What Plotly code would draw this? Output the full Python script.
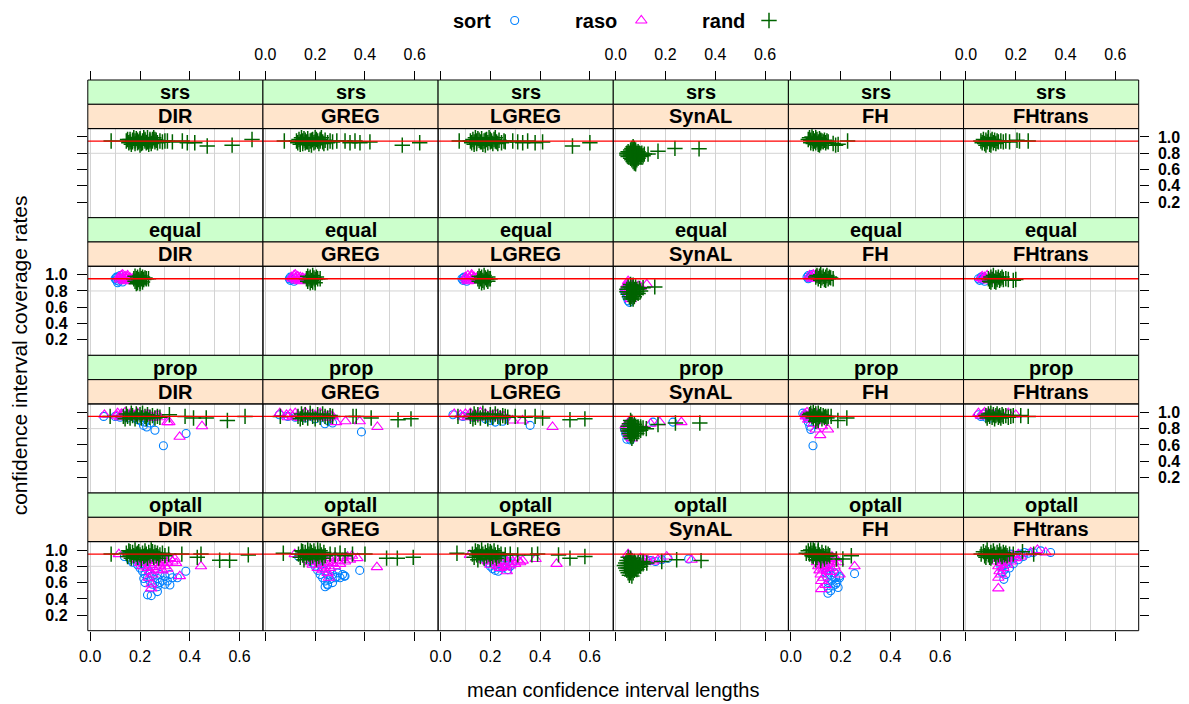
import plotly.graph_objects as go

# ---------------- data ----------------
DESIGNS = ["srs", "equal", "prop", "optall"]
METHODS = ["DIR", "GREG", "LGREG", "SynAL", "FH", "FHtrans"]
GROUPS = ["sort", "raso", "rand"]

X_TICKS = [0.0, 0.2, 0.4, 0.6]
X_TICK_TEXT = ["0.0", "0.2", "0.4", "0.6"]
X_MINOR = [0.1, 0.3, 0.5]
Y_TICKS = [0.2, 0.4, 0.6, 0.8, 1.0]
Y_TICK_TEXT = ["0.2", "0.4", "0.6", "0.8", "1.0"]
TARGET_LEVEL = 0.95
Y_GRID_LEVEL = 0.8
X_RANGE = [-0.0098, 0.6939]
Y_RANGE = [0.01, 1.103]

# --- srs (only rand) ---
SRS_DIR_RAND = [(0.084,0.95),
 (0.145,0.95),(0.155,0.93),(0.16,0.97),(0.17,0.94),(0.175,0.99),(0.18,0.92),(0.19,0.96),(0.195,0.94),(0.2,0.98),
 (0.205,0.92),(0.21,0.95),(0.22,0.97),(0.225,0.93),(0.23,0.99),(0.24,0.95),(0.245,0.92),(0.25,0.97),(0.26,0.94),
 (0.265,0.96),(0.27,0.93),(0.28,0.95),(0.29,0.94),(0.3,0.95),
 (0.15,0.97),(0.165,0.91),(0.185,0.98),(0.2,0.9),(0.215,0.99),(0.235,0.91),(0.255,0.99),(0.17,0.96),(0.21,0.93),(0.24,0.97),
 (0.16,0.94),(0.18,0.95),(0.19,0.93),(0.2,0.96),(0.22,0.95),(0.23,0.94),(0.25,0.95),(0.26,0.97),
 (0.31,0.95),(0.33,0.94),(0.37,0.95),(0.39,0.93),(0.42,0.93),(0.47,0.89),(0.57,0.9),(0.65,0.97)]
SRS_GREG_RAND = [(0.076,0.95),
 (0.125,0.95),(0.13,0.93),(0.135,0.97),(0.14,0.94),(0.145,0.99),(0.15,0.92),(0.16,0.96),(0.165,0.94),(0.17,0.98),
 (0.175,0.91),(0.18,0.95),(0.19,0.97),(0.195,0.93),(0.2,0.99),(0.21,0.95),(0.215,0.92),(0.22,0.97),(0.23,0.94),
 (0.24,0.96),(0.25,0.93),(0.26,0.95),(0.27,0.94),(0.287,0.95),
 (0.14,0.91),(0.155,0.98),(0.185,0.9),(0.205,0.97),(0.225,0.99),(0.235,0.92),(0.16,0.93),
 (0.15,0.95),(0.17,0.94),(0.185,0.96),(0.2,0.94),(0.22,0.95),
 (0.32,0.95),(0.34,0.93),(0.36,0.95),(0.38,0.93),(0.42,0.94),(0.55,0.9),(0.62,0.93)]
SRS_LGREG_RAND = [(0.075,0.95),
 (0.12,0.95),(0.125,0.93),(0.13,0.97),(0.135,0.94),(0.14,0.99),(0.145,0.92),(0.155,0.96),(0.16,0.94),(0.165,0.98),
 (0.17,0.91),(0.175,0.95),(0.185,0.97),(0.19,0.93),(0.195,0.99),(0.205,0.95),(0.21,0.92),(0.215,0.97),(0.225,0.94),
 (0.235,0.96),(0.245,0.93),(0.255,0.95),(0.26,0.94),
 (0.135,0.91),(0.15,0.98),(0.18,0.9),(0.2,0.97),(0.22,0.99),(0.23,0.92),
 (0.145,0.95),(0.165,0.94),(0.18,0.96),(0.2,0.94),(0.22,0.95),
 (0.29,0.95),(0.31,0.94),(0.33,0.93),(0.35,0.95),(0.38,0.93),(0.41,0.94),(0.53,0.89),(0.6,0.93)]
SRS_SYNAL_RAND = [(0.07,0.88),(0.065,0.86),(0.075,0.86),(0.06,0.84),(0.07,0.84),(0.08,0.84),(0.05,0.82),(0.06,0.82),
 (0.07,0.82),(0.08,0.82),(0.09,0.82),(0.045,0.8),(0.055,0.8),(0.065,0.8),(0.075,0.8),(0.085,0.8),(0.095,0.8),(0.105,0.8),
 (0.045,0.78),(0.06,0.78),(0.07,0.78),(0.08,0.78),(0.09,0.78),(0.1,0.78),(0.115,0.79),(0.13,0.79),(0.05,0.76),(0.06,0.76),
 (0.07,0.76),(0.08,0.76),(0.09,0.76),(0.1,0.76),(0.11,0.77),(0.06,0.74),(0.07,0.74),(0.08,0.74),(0.09,0.74),(0.065,0.72),
 (0.075,0.72),(0.085,0.72),(0.07,0.7),(0.08,0.7),(0.075,0.68),(0.08,0.67),(0.17,0.825),(0.238,0.86),(0.335,0.855)]
SRS_FH_RAND = [(0.07,0.97),(0.075,0.99),(0.08,0.96),(0.085,1.0),(0.09,0.98),(0.095,0.95),(0.1,0.99),(0.105,0.97),
 (0.11,0.94),(0.115,0.98),(0.12,0.96),(0.08,0.93),(0.09,0.92),(0.1,0.93),(0.11,0.91),(0.12,0.93),(0.125,0.95),(0.13,0.94),
 (0.135,0.96),(0.14,0.93),(0.145,0.95),(0.15,0.94),(0.1,0.96),(0.09,0.95),(0.115,0.9),(0.17,0.92),(0.18,0.9),(0.19,0.91),
 (0.228,0.95)]
SRS_FHTRANS_RAND = [(0.06,0.95),(0.065,0.93),(0.07,0.97),(0.075,0.92),(0.08,0.96),(0.085,0.94),(0.09,0.98),(0.095,0.91),
 (0.1,0.95),(0.105,0.97),(0.11,0.93),(0.115,0.96),(0.12,0.92),(0.125,0.95),(0.13,0.94),(0.14,0.95),(0.15,0.94),(0.16,0.95),
 (0.175,0.94),(0.08,0.9),(0.1,0.9),(0.09,0.99),(0.205,0.96),(0.25,0.95),(0.215,0.95)]

# --- equal ---
EQUAL_DIR_SORT = [(0.1,0.95),(0.105,0.93),(0.11,0.97),(0.115,0.92),(0.12,0.96),(0.125,0.94),(0.13,0.91),(0.11,0.9),
 (0.105,0.97),(0.12,0.99)]
EQUAL_DIR_RASO = [(0.115,0.97),(0.12,0.94),(0.125,0.99),(0.13,0.96),(0.135,0.93),(0.14,0.98),(0.145,0.95),(0.15,0.97),
 (0.155,0.93),(0.16,0.96),(0.165,0.94),(0.17,0.95),(0.13,1.0),(0.14,0.92),(0.15,0.99)]
EQUAL_DIR_RAND = [(0.175,0.95),(0.18,0.92),(0.18,0.98),(0.185,0.95),(0.19,0.9),(0.19,0.97),(0.195,0.94),(0.2,0.99),
 (0.2,0.92),(0.205,0.95),(0.21,0.97),(0.21,0.91),(0.215,0.94),(0.22,0.96),(0.225,0.95),(0.234,0.95),(0.185,0.89),(0.2,0.89)]
EQUAL_GREG_SORT = [(0.096,0.95),(0.1,0.93),(0.105,0.96),(0.11,0.94),(0.115,0.92),(0.1,0.97)]
EQUAL_GREG_RASO = [(0.105,0.97),(0.11,0.95),(0.115,0.99),(0.12,0.96),(0.125,0.93),(0.13,0.98),(0.135,0.95),(0.14,0.97),
 (0.145,0.93),(0.15,0.96),(0.155,0.94),(0.16,0.95),(0.12,1.0),(0.14,0.92)]
EQUAL_GREG_RAND = [(0.165,0.95),(0.17,0.92),(0.17,0.98),(0.175,0.95),(0.18,0.9),(0.18,0.97),(0.185,0.93),(0.19,0.99),
 (0.19,0.91),(0.195,0.96),(0.2,0.94),(0.2,0.9),(0.205,0.97),(0.21,0.95),(0.22,0.95)]
EQUAL_LGREG_SORT = [(0.086,0.95),(0.09,0.93),(0.095,0.97),(0.1,0.94),(0.105,0.92),(0.092,0.96)]
EQUAL_LGREG_RASO = [(0.1,0.97),(0.105,0.94),(0.11,0.99),(0.115,0.96),(0.12,0.93),(0.125,0.98),(0.13,0.95),(0.135,0.97),
 (0.14,0.93),(0.145,0.96),(0.11,0.92),(0.125,1.0)]
EQUAL_LGREG_RAND = [(0.15,0.95),(0.155,0.92),(0.155,0.98),(0.16,0.95),(0.165,0.9),(0.165,0.97),(0.17,0.93),(0.175,0.99),
 (0.175,0.91),(0.18,0.96),(0.185,0.94),(0.19,0.92),(0.19,0.97),(0.195,0.95),(0.2,0.95)]
EQUAL_SYNAL_SORT = [(0.035,0.8),(0.04,0.78),(0.04,0.82),(0.045,0.72),(0.05,0.68),(0.055,0.66),(0.05,0.86),(0.06,0.74),
 (0.045,0.76)]
EQUAL_SYNAL_RASO = [(0.05,0.92),(0.045,0.88),(0.055,0.9),(0.04,0.84),(0.06,0.82),(0.065,0.86),(0.05,0.8),(0.07,0.78),
 (0.055,0.76),(0.08,0.84),(0.09,0.86),(0.125,0.88),(0.06,0.7),(0.1,0.85)]
EQUAL_SYNAL_RAND = [(0.06,0.88),(0.07,0.87),(0.05,0.85),(0.06,0.85),(0.07,0.85),(0.08,0.85),(0.045,0.82),(0.055,0.82),
 (0.065,0.82),(0.075,0.82),(0.085,0.82),(0.095,0.83),(0.045,0.79),(0.055,0.79),(0.065,0.79),(0.075,0.79),(0.085,0.79),
 (0.1,0.8),(0.05,0.76),(0.06,0.76),(0.07,0.76),(0.08,0.76),(0.09,0.77),(0.055,0.73),(0.065,0.73),(0.075,0.73),(0.06,0.7),
 (0.07,0.7),(0.157,0.85),(0.11,0.84)]
EQUAL_FH_SORT = [(0.065,0.97),(0.07,0.99),(0.075,0.96),(0.08,0.98),(0.085,1.0),(0.07,0.95)]
EQUAL_FH_RASO = [(0.075,0.99),(0.08,0.97),(0.085,0.95),(0.09,0.99),(0.095,0.96),(0.1,0.98),(0.105,1.0),(0.11,0.97),
 (0.115,0.95),(0.09,1.0)]
EQUAL_FH_RAND = [(0.1,0.97),(0.105,0.99),(0.11,0.95),(0.115,0.98),(0.12,1.0),(0.125,0.96),(0.13,0.98),(0.135,0.94),
 (0.14,0.97),(0.145,0.99),(0.15,0.95),(0.155,0.97),(0.16,0.96),(0.17,0.95),(0.12,0.93),(0.14,0.93)]
EQUAL_FHTRANS_SORT = [(0.05,0.95),(0.055,0.93),(0.06,0.97),(0.065,0.94),(0.07,0.96),(0.075,0.92)]
EQUAL_FHTRANS_RASO = [(0.06,0.96),(0.065,0.98),(0.07,0.94),(0.075,0.97),(0.08,0.95),(0.085,0.99),(0.09,0.93),(0.095,0.96),
 (0.1,0.94),(0.105,0.97),(0.11,0.95)]
EQUAL_FHTRANS_RAND = [(0.09,0.95),(0.095,0.92),(0.1,0.97),(0.105,0.94),(0.11,0.99),(0.115,0.92),(0.12,0.96),(0.125,0.94),
 (0.13,0.97),(0.135,0.93),(0.14,0.95),(0.145,0.97),(0.15,0.94),(0.16,0.95),(0.17,0.94),(0.19,0.93),(0.2,0.94),(0.1,0.91),
 (0.12,0.91)]

# --- prop ---
PROP_DIR_SORT = [(0.054,0.95),(0.1,0.95),(0.12,0.94),(0.15,0.93),(0.18,0.93),(0.2,0.9),(0.214,0.84),(0.227,0.82),
 (0.26,0.78),(0.294,0.59),(0.385,0.74),(0.22,0.88),(0.24,0.87),(0.19,0.91),(0.16,0.96),(0.13,0.97)]
PROP_DIR_RASO = [(0.057,0.97),(0.107,0.96),(0.11,0.99),(0.12,0.94),(0.13,0.97),(0.14,1.0),(0.15,0.95),(0.16,0.98),
 (0.17,0.94),(0.18,0.97),(0.19,0.99),(0.2,0.95),(0.21,0.97),(0.22,0.94),(0.23,0.98),(0.24,0.96),(0.25,0.93),(0.26,0.95),
 (0.27,0.97),(0.28,0.94),(0.31,0.88),(0.318,0.88),(0.359,0.7),(0.449,0.83),(0.125,0.98),(0.145,0.96),(0.165,0.99),
 (0.185,0.95)]
PROP_DIR_RAND = [(0.08,0.95),(0.133,0.95),(0.14,0.92),(0.145,0.98),(0.15,0.95),(0.16,0.93),(0.165,0.99),(0.17,0.96),
 (0.18,0.92),(0.185,0.98),(0.19,0.95),(0.2,0.97),(0.205,0.93),(0.21,0.99),(0.22,0.95),(0.225,0.92),(0.23,0.97),
 (0.24,0.94),(0.25,0.96),(0.26,0.93),(0.27,0.95),(0.28,0.94),(0.318,0.97),(0.381,0.95),(0.415,0.93),(0.466,0.93),
 (0.551,0.9),(0.622,0.95)]
PROP_GREG_SORT = [(0.056,0.97),(0.09,0.95),(0.12,0.94),(0.16,0.93),(0.2,0.92),(0.239,0.86),(0.27,0.87),(0.386,0.76),
 (0.25,0.9)]
PROP_GREG_RASO = [(0.058,0.99),(0.085,0.97),(0.09,0.94),(0.1,0.98),(0.11,0.95),(0.12,0.99),(0.13,0.96),(0.14,0.93),
 (0.15,0.97),(0.16,1.0),(0.17,0.95),(0.18,0.98),(0.19,0.94),(0.2,0.97),(0.21,0.95),(0.22,0.99),(0.23,0.94),(0.24,0.96),
 (0.25,0.93),(0.26,0.97),(0.27,0.95),(0.284,0.88),(0.322,0.89),(0.379,0.89),(0.45,0.82)]
PROP_GREG_RAND = [(0.06,0.95),(0.131,0.95),(0.14,0.92),(0.145,0.98),(0.15,0.94),(0.16,0.97),(0.17,0.93),(0.18,0.99),
 (0.19,0.95),(0.2,0.92),(0.21,0.97),(0.22,0.94),(0.23,0.98),(0.24,0.95),(0.25,0.93),(0.26,0.96),(0.27,0.95),(0.352,0.95),
 (0.365,0.95),(0.425,0.93),(0.533,0.91),(0.585,0.92)]
PROP_LGREG_SORT = [(0.05,0.97),(0.09,0.95),(0.13,0.94),(0.18,0.92),(0.22,0.88),(0.25,0.89),(0.36,0.84),(0.2,0.9)]
PROP_LGREG_RASO = [(0.055,0.98),(0.08,0.97),(0.09,0.94),(0.1,0.98),(0.11,0.95),(0.12,0.99),(0.13,0.96),(0.14,0.93),
 (0.15,0.97),(0.16,1.0),(0.17,0.95),(0.18,0.98),(0.19,0.94),(0.2,0.97),(0.21,0.95),(0.22,0.98),(0.23,0.94),(0.24,0.96),
 (0.255,0.95),(0.29,0.9),(0.33,0.9),(0.45,0.82)]
PROP_LGREG_RAND = [(0.07,0.95),(0.12,0.95),(0.13,0.92),(0.135,0.98),(0.14,0.94),(0.15,0.97),(0.16,0.93),(0.17,0.99),
 (0.18,0.95),(0.19,0.92),(0.2,0.97),(0.21,0.94),(0.22,0.98),(0.23,0.95),(0.24,0.93),(0.25,0.96),(0.26,0.95),(0.27,0.94),
 (0.3,0.95),(0.34,0.94),(0.38,0.95),(0.41,0.93),(0.52,0.91),(0.58,0.92)]
PROP_SYNAL_SORT = [(0.043,0.78),(0.045,0.67),(0.04,0.74),(0.05,0.7),(0.15,0.88),(0.23,0.88),(0.06,0.66),(0.035,0.8)]
PROP_SYNAL_RASO = [(0.04,0.84),(0.045,0.8),(0.05,0.76),(0.055,0.72),(0.14,0.86),(0.177,0.88),(0.264,0.88),(0.06,0.9),
 (0.05,0.87),(0.065,0.68)]
PROP_SYNAL_RAND = [(0.06,0.9),(0.065,0.88),(0.055,0.86),(0.065,0.86),(0.075,0.85),(0.05,0.83),(0.06,0.83),(0.07,0.83),
 (0.08,0.83),(0.09,0.82),(0.1,0.82),(0.05,0.8),(0.06,0.8),(0.07,0.8),(0.08,0.8),(0.09,0.8),(0.1,0.8),(0.11,0.81),
 (0.123,0.8),(0.05,0.77),(0.06,0.77),(0.07,0.77),(0.08,0.77),(0.09,0.77),(0.1,0.78),(0.055,0.74),(0.065,0.74),
 (0.075,0.74),(0.085,0.74),(0.06,0.71),(0.07,0.71),(0.065,0.68),(0.17,0.85),(0.24,0.87),(0.338,0.87)]
PROP_FH_SORT = [(0.048,0.99),(0.06,0.96),(0.07,0.88),(0.076,0.83),(0.08,0.79),(0.089,0.59),(0.065,0.93),(0.055,0.97)]
PROP_FH_RASO = [(0.057,0.98),(0.06,0.95),(0.065,1.0),(0.07,0.96),(0.075,0.93),(0.08,0.99),(0.085,0.95),(0.09,0.97),
 (0.095,0.92),(0.1,0.99),(0.105,0.95),(0.11,0.97),(0.117,0.93),(0.07,0.91),(0.1,0.79),(0.149,0.79),(0.118,0.72),
 (0.09,0.86),(0.125,0.83)]
PROP_FH_RAND = [(0.075,0.97),(0.08,0.99),(0.085,0.95),(0.09,1.0),(0.095,0.96),(0.1,0.98),(0.105,0.93),(0.11,0.99),
 (0.115,0.95),(0.12,0.97),(0.125,0.92),(0.13,0.96),(0.135,0.94),(0.14,0.95),(0.145,0.93),(0.15,0.95),(0.09,0.93),
 (0.11,0.9),(0.1,0.89),(0.162,0.95),(0.189,0.9),(0.225,0.93)]
PROP_FHTRANS_SORT = [(0.05,0.97),(0.06,0.95),(0.07,0.98),(0.08,0.94),(0.09,0.96),(0.1,0.93),(0.12,0.97)]
PROP_FHTRANS_RASO = [(0.05,0.99),(0.06,0.96),(0.07,0.98),(0.08,0.95),(0.09,0.99),(0.1,0.96),(0.11,0.98),(0.12,0.95),
 (0.13,0.97),(0.17,0.99),(0.2,0.97),(0.075,1.0)]
PROP_FHTRANS_RAND = [(0.08,0.96),(0.085,0.93),(0.09,0.98),(0.095,0.95),(0.1,0.99),(0.105,0.94),(0.11,0.97),(0.115,0.92),
 (0.12,0.96),(0.125,0.98),(0.13,0.94),(0.135,0.96),(0.14,0.93),(0.145,0.97),(0.15,0.95),(0.16,0.96),(0.17,0.94),
 (0.18,0.95),(0.19,0.96),(0.22,0.96),(0.25,0.95)]

# --- optall ---
OPTALL_DIR_SORT = [(0.137,0.92),(0.16,0.88),(0.17,0.85),(0.18,0.89),(0.19,0.82),(0.2,0.86),(0.2,0.78),(0.21,0.74),
 (0.21,0.83),(0.22,0.7),(0.22,0.8),(0.23,0.66),(0.23,0.76),(0.24,0.62),(0.24,0.72),(0.25,0.68),(0.25,0.58),(0.26,0.74),
 (0.26,0.6),(0.27,0.65),(0.27,0.55),(0.28,0.7),(0.28,0.6),(0.29,0.63),(0.3,0.68),(0.3,0.58),(0.31,0.62),(0.32,0.57),
 (0.33,0.66),(0.23,0.45),(0.245,0.44),(0.27,0.49),(0.384,0.74),(0.35,0.66),(0.32,0.7),(0.22,0.6),(0.215,0.65)]
OPTALL_DIR_RASO = [(0.115,0.95),(0.18,0.93),(0.19,0.88),(0.2,0.92),(0.2,0.84),(0.21,0.9),(0.21,0.8),(0.22,0.94),
 (0.22,0.86),(0.23,0.78),(0.23,0.9),(0.24,0.82),(0.24,0.74),(0.25,0.88),(0.25,0.79),(0.26,0.84),(0.26,0.92),(0.27,0.76),
 (0.27,0.87),(0.28,0.81),(0.28,0.9),(0.29,0.85),(0.29,0.75),(0.3,0.88),(0.3,0.8),(0.31,0.84),(0.31,0.77),(0.32,0.9),
 (0.33,0.86),(0.34,0.89),(0.345,0.84),(0.36,0.68),(0.445,0.8),(0.245,0.53),(0.245,0.58),(0.25,0.7),(0.235,0.66)]
OPTALL_DIR_RAND = [(0.084,0.95),(0.145,0.96),(0.15,0.92),(0.155,0.99),(0.16,0.94),(0.165,0.9),(0.17,0.97),(0.175,0.93),
 (0.18,1.0),(0.185,0.95),(0.19,0.91),(0.195,0.98),(0.2,0.94),(0.205,0.88),(0.21,0.96),(0.215,0.92),(0.22,0.99),
 (0.225,0.95),(0.23,0.9),(0.235,0.97),(0.24,0.93),(0.245,1.0),(0.25,0.95),(0.255,0.91),(0.26,0.97),(0.265,0.93),
 (0.27,0.96),(0.275,0.9),(0.28,0.94),(0.29,0.96),(0.3,0.93),(0.16,0.98),(0.19,0.96),(0.22,0.93),(0.25,0.98),
 (0.315,0.95),(0.368,0.95),(0.43,0.91),(0.445,0.95),(0.52,0.875),(0.56,0.875),(0.635,0.94)]
OPTALL_GREG_SORT = [(0.133,0.92),(0.18,0.88),(0.19,0.84),(0.2,0.8),(0.2,0.88),(0.21,0.75),(0.21,0.85),(0.22,0.7),
 (0.22,0.82),(0.23,0.66),(0.23,0.78),(0.24,0.62),(0.24,0.74),(0.25,0.58),(0.25,0.7),(0.26,0.64),(0.26,0.76),(0.27,0.6),
 (0.27,0.7),(0.28,0.66),(0.29,0.72),(0.3,0.66),(0.31,0.7),(0.317,0.68),(0.24,0.55),(0.25,0.57),(0.379,0.75),(0.286,0.67),
 (0.32,0.68)]
OPTALL_GREG_RASO = [(0.118,0.95),(0.165,0.92),(0.17,0.88),(0.18,0.93),(0.18,0.85),(0.19,0.9),(0.19,0.82),(0.2,0.94),
 (0.2,0.86),(0.21,0.78),(0.21,0.9),(0.22,0.83),(0.22,0.92),(0.23,0.76),(0.23,0.88),(0.24,0.8),(0.24,0.93),(0.25,0.85),
 (0.26,0.9),(0.26,0.78),(0.27,0.84),(0.28,0.92),(0.28,0.8),(0.29,0.87),(0.3,0.83),(0.31,0.9),(0.32,0.86),(0.33,0.92),
 (0.34,0.88),(0.348,0.93),(0.37,0.9),(0.448,0.79),(0.255,0.66),(0.25,0.72)]
OPTALL_GREG_RAND = [(0.072,0.96),(0.133,0.95),(0.14,0.91),(0.145,0.99),(0.15,0.94),(0.155,0.88),(0.16,0.97),(0.165,0.92),
 (0.17,1.0),(0.175,0.95),(0.18,0.9),(0.185,0.97),(0.19,0.93),(0.195,0.99),(0.2,0.95),(0.205,0.89),(0.21,0.96),
 (0.215,0.92),(0.22,0.99),(0.225,0.94),(0.23,0.9),(0.235,0.97),(0.24,0.93),(0.15,0.98),(0.18,0.99),(0.21,1.0),
 (0.26,0.95),(0.28,0.94),(0.3,0.96),(0.32,0.93),(0.35,0.95),(0.4,0.95),(0.487,0.9),(0.53,0.9),(0.594,0.91)]
OPTALL_LGREG_SORT = [(0.18,0.88),(0.19,0.84),(0.2,0.8),(0.2,0.9),(0.21,0.77),(0.21,0.86),(0.22,0.82),(0.22,0.75),
 (0.23,0.79),(0.232,0.74),(0.24,0.84),(0.25,0.78),(0.26,0.82),(0.27,0.76),(0.28,0.8),(0.29,0.84),(0.25,0.87),(0.27,0.86)]
OPTALL_LGREG_RASO = [(0.118,0.94),(0.167,0.92),(0.175,0.88),(0.18,0.93),(0.19,0.86),(0.2,0.9),(0.2,0.82),(0.21,0.88),
 (0.22,0.84),(0.22,0.92),(0.23,0.8),(0.24,0.87),(0.24,0.78),(0.25,0.83),(0.25,0.91),(0.26,0.79),(0.27,0.85),(0.28,0.9),
 (0.28,0.81),(0.29,0.86),(0.3,0.83),(0.31,0.88),(0.32,0.85),(0.266,0.74),(0.382,0.89),(0.466,0.83),(0.33,0.87)]
OPTALL_LGREG_RAND = [(0.066,0.96),(0.128,0.95),(0.135,0.91),(0.14,0.99),(0.145,0.94),(0.15,0.88),(0.155,0.97),(0.16,0.92),
 (0.165,1.0),(0.17,0.95),(0.175,0.9),(0.18,0.97),(0.185,0.93),(0.19,0.99),(0.195,0.95),(0.2,0.89),(0.205,0.96),
 (0.21,0.92),(0.215,0.99),(0.22,0.94),(0.225,0.9),(0.23,0.97),(0.235,0.93),(0.243,0.95),(0.15,0.98),(0.2,0.98),
 (0.26,0.94),(0.28,0.95),(0.31,0.94),(0.367,0.94),(0.39,0.95),(0.474,0.94),(0.52,0.9),(0.58,0.92)]
OPTALL_SYNAL_SORT = [(0.185,0.88),(0.21,0.9),(0.293,0.89),(0.14,0.87),(0.16,0.86),(0.12,0.88)]
OPTALL_SYNAL_RASO = [(0.05,0.95),(0.06,0.92),(0.117,0.88),(0.13,0.87),(0.15,0.86),(0.17,0.88),(0.205,0.92),(0.305,0.88),
 (0.1,0.9),(0.055,0.88)]
OPTALL_SYNAL_RAND = [(0.05,0.91),(0.06,0.9),(0.045,0.87),(0.055,0.87),(0.065,0.87),(0.075,0.86),(0.04,0.84),(0.05,0.84),
 (0.06,0.84),(0.07,0.84),(0.08,0.84),(0.09,0.85),(0.1,0.85),(0.11,0.86),(0.035,0.81),(0.045,0.81),(0.055,0.81),
 (0.065,0.81),(0.075,0.81),(0.085,0.81),(0.095,0.82),(0.11,0.83),(0.125,0.84),(0.04,0.78),(0.05,0.78),(0.06,0.78),
 (0.07,0.78),(0.08,0.78),(0.09,0.79),(0.1,0.8),(0.045,0.75),(0.055,0.75),(0.065,0.75),(0.075,0.75),(0.085,0.76),
 (0.05,0.72),(0.06,0.72),(0.07,0.72),(0.055,0.69),(0.065,0.68),(0.185,0.86),(0.245,0.88),(0.343,0.87)]
OPTALL_FH_SORT = [(0.135,0.78),(0.14,0.72),(0.145,0.66),(0.15,0.6),(0.155,0.75),(0.16,0.69),(0.165,0.63),(0.17,0.56),
 (0.175,0.72),(0.18,0.66),(0.185,0.6),(0.19,0.54),(0.195,0.68),(0.15,0.53),(0.16,0.5),(0.149,0.47),(0.256,0.71),
 (0.18,0.58),(0.196,0.66),(0.14,0.82)]
OPTALL_FH_RASO = [(0.1,0.9),(0.105,0.85),(0.11,0.8),(0.11,0.93),(0.115,0.75),(0.12,0.88),(0.12,0.7),(0.125,0.82),
 (0.13,0.77),(0.13,0.92),(0.135,0.86),(0.14,0.8),(0.145,0.74),(0.15,0.89),(0.155,0.83),(0.16,0.78),(0.165,0.92),
 (0.17,0.86),(0.175,0.8),(0.18,0.9),(0.19,0.85),(0.122,0.62),(0.122,0.52),(0.196,0.7),(0.256,0.8),(0.16,0.73),
 (0.13,0.66),(0.14,0.57)]
OPTALL_FH_RAND = [(0.062,0.96),(0.07,0.99),(0.075,0.95),(0.08,1.0),(0.085,0.96),(0.09,0.92),(0.095,0.99),(0.1,0.95),
 (0.105,0.91),(0.11,0.98),(0.115,0.94),(0.12,0.9),(0.125,0.97),(0.13,0.93),(0.135,0.89),(0.14,0.96),(0.145,0.92),
 (0.15,0.95),(0.156,0.93),(0.085,0.93),(0.1,0.88),(0.12,0.87),(0.09,1.0),(0.11,1.0),(0.183,0.89),(0.209,0.89),
 (0.243,0.93)]
OPTALL_FHTRANS_SORT = [(0.128,0.9),(0.135,0.85),(0.14,0.8),(0.145,0.93),(0.15,0.87),(0.155,0.76),(0.16,0.82),(0.165,0.92),
 (0.17,0.86),(0.175,0.78),(0.18,0.95),(0.185,0.89),(0.19,0.83),(0.2,0.93),(0.21,0.88),(0.22,0.95),(0.23,0.92),
 (0.235,0.97),(0.25,0.96),(0.27,0.97),(0.3,0.99),(0.34,0.97),(0.152,0.64),(0.16,0.7),(0.145,0.72)]
OPTALL_FHTRANS_RASO = [(0.12,0.92),(0.125,0.86),(0.13,0.8),(0.135,0.74),(0.14,0.9),(0.145,0.84),(0.15,0.78),(0.155,0.94),
 (0.16,0.88),(0.165,0.82),(0.17,0.92),(0.18,0.86),(0.19,0.94),(0.2,0.9),(0.21,0.95),(0.22,0.92),(0.13,0.66),(0.13,0.53),
 (0.287,1.0),(0.32,0.97),(0.26,0.97),(0.14,0.7)]
OPTALL_FHTRANS_RAND = [(0.061,0.95),(0.07,0.98),(0.075,0.93),(0.08,0.96),(0.085,1.0),(0.09,0.94),(0.095,0.91),(0.1,0.97),
 (0.105,0.93),(0.11,0.99),(0.115,0.95),(0.12,0.91),(0.125,0.97),(0.13,0.94),(0.135,0.99),(0.14,0.95),(0.145,0.92),
 (0.15,0.97),(0.155,0.94),(0.16,0.96),(0.165,0.93),(0.175,0.95),(0.19,0.95),(0.227,0.98),(0.272,0.95),(0.1,0.9),
 (0.08,0.91)]

PANEL_DATA = {
    ("srs", "DIR"): {"rand": SRS_DIR_RAND},
    ("srs", "GREG"): {"rand": SRS_GREG_RAND},
    ("srs", "LGREG"): {"rand": SRS_LGREG_RAND},
    ("srs", "SynAL"): {"rand": SRS_SYNAL_RAND},
    ("srs", "FH"): {"rand": SRS_FH_RAND},
    ("srs", "FHtrans"): {"rand": SRS_FHTRANS_RAND},
    ("equal", "DIR"): {"sort": EQUAL_DIR_SORT, "raso": EQUAL_DIR_RASO, "rand": EQUAL_DIR_RAND},
    ("equal", "GREG"): {"sort": EQUAL_GREG_SORT, "raso": EQUAL_GREG_RASO, "rand": EQUAL_GREG_RAND},
    ("equal", "LGREG"): {"sort": EQUAL_LGREG_SORT, "raso": EQUAL_LGREG_RASO, "rand": EQUAL_LGREG_RAND},
    ("equal", "SynAL"): {"sort": EQUAL_SYNAL_SORT, "raso": EQUAL_SYNAL_RASO, "rand": EQUAL_SYNAL_RAND},
    ("equal", "FH"): {"sort": EQUAL_FH_SORT, "raso": EQUAL_FH_RASO, "rand": EQUAL_FH_RAND},
    ("equal", "FHtrans"): {"sort": EQUAL_FHTRANS_SORT, "raso": EQUAL_FHTRANS_RASO, "rand": EQUAL_FHTRANS_RAND},
    ("prop", "DIR"): {"sort": PROP_DIR_SORT, "raso": PROP_DIR_RASO, "rand": PROP_DIR_RAND},
    ("prop", "GREG"): {"sort": PROP_GREG_SORT, "raso": PROP_GREG_RASO, "rand": PROP_GREG_RAND},
    ("prop", "LGREG"): {"sort": PROP_LGREG_SORT, "raso": PROP_LGREG_RASO, "rand": PROP_LGREG_RAND},
    ("prop", "SynAL"): {"sort": PROP_SYNAL_SORT, "raso": PROP_SYNAL_RASO, "rand": PROP_SYNAL_RAND},
    ("prop", "FH"): {"sort": PROP_FH_SORT, "raso": PROP_FH_RASO, "rand": PROP_FH_RAND},
    ("prop", "FHtrans"): {"sort": PROP_FHTRANS_SORT, "raso": PROP_FHTRANS_RASO, "rand": PROP_FHTRANS_RAND},
    ("optall", "DIR"): {"sort": OPTALL_DIR_SORT, "raso": OPTALL_DIR_RASO, "rand": OPTALL_DIR_RAND},
    ("optall", "GREG"): {"sort": OPTALL_GREG_SORT, "raso": OPTALL_GREG_RASO, "rand": OPTALL_GREG_RAND},
    ("optall", "LGREG"): {"sort": OPTALL_LGREG_SORT, "raso": OPTALL_LGREG_RASO, "rand": OPTALL_LGREG_RAND},
    ("optall", "SynAL"): {"sort": OPTALL_SYNAL_SORT, "raso": OPTALL_SYNAL_RASO, "rand": OPTALL_SYNAL_RAND},
    ("optall", "FH"): {"sort": OPTALL_FH_SORT, "raso": OPTALL_FH_RASO, "rand": OPTALL_FH_RAND},
    ("optall", "FHtrans"): {"sort": OPTALL_FHTRANS_SORT, "raso": OPTALL_FHTRANS_RASO, "rand": OPTALL_FHTRANS_RAND},
}

# ---------------- styling / layout ----------------
W, H = 1189, 704
FONT = "Liberation Sans, Arial, Helvetica, sans-serif"
PLOT_L, PLOT_R, PLOT_T, PLOT_B = 87.8, 1138.7, 80.0, 630.7
STRIP_H = 24.3
COL_W = (PLOT_R - PLOT_L) / 6
ROW_H = (PLOT_B - PLOT_T) / 4
GRID_COLOR = "#d3d3d3"
STRIP_OUTER = "#ccffcc"
STRIP_INNER = "#ffe5cc"
STYLE = {
    "sort": dict(symbol="circle-open", size=8, color="#0080ff", lw=1.1),
    "raso": dict(symbol="triangle-up-open", size=10, color="#ff00ff", lw=1.1),
    "rand": dict(symbol="cross-thin-open", size=11, color="#006400", lw=1.5),
}
LEGEND_KEY_X = [514.7, 641.3, 769.0]
LEGEND_TEXT_X = [472.0, 596.0, 723.0]
LEGEND_Y = 20.5

def px_x(p):
    return p / W

def px_y(p):
    return 1 - p / H

fig = go.Figure()
layout = dict(width=W, height=H, margin=dict(l=0, r=0, t=0, b=0, autoexpand=False),
              paper_bgcolor="white", plot_bgcolor="white", showlegend=False,
              font=dict(family=FONT, color="black"))
shapes, annotations = [], []

for r, design in enumerate(DESIGNS):
    for c, method in enumerate(METHODS):
        i = r * 6 + c + 1
        sx = "" if i == 1 else str(i)
        x0 = PLOT_L + c * COL_W
        x1 = x0 + COL_W
        top = PLOT_T + r * ROW_H
        pt = top + 2 * STRIP_H
        pb = top + ROW_H

        xa = dict(domain=[px_x(x0), px_x(x1)], range=X_RANGE, anchor="y" + sx, automargin=False,
                  tickmode="array", tickvals=X_TICKS, ticktext=X_TICK_TEXT,
                  showgrid=True, gridcolor=GRID_COLOR, gridwidth=1, zeroline=False, showline=False,
                  minor=dict(tickmode="array", tickvals=X_MINOR, showgrid=True,
                             gridcolor=GRID_COLOR, gridwidth=1, ticks=""),
                  ticks="", showticklabels=False,
                  tickfont=dict(family=FONT, size=16, color="black"))
        if r == 3:
            xa.update(ticks="outside", ticklen=9, tickwidth=1, tickcolor="black", side="bottom",
                      showticklabels=(c % 2 == 0), ticklabelstandoff=2)
        if r == 0:
            xa.update(ticks="outside", ticklen=9, tickwidth=1, tickcolor="black", side="top",
                      anchor="free", position=px_y(PLOT_T),
                      showticklabels=(c % 2 == 1), ticklabelstandoff=5)
        ya = dict(domain=[px_y(pb), px_y(pt)], range=Y_RANGE, anchor="x" + sx, automargin=False,
                  tickmode="array", tickvals=Y_TICKS, ticktext=Y_TICK_TEXT,
                  showgrid=False, zeroline=False, showline=False, ticks="", showticklabels=False,
                  tickfont=dict(family=FONT, size=16, color="black", weight="bold"))
        if c == 0:
            ya.update(ticks="outside", ticklen=10, tickwidth=1, tickcolor="black", side="left",
                      showticklabels=(r % 2 == 1), ticklabelstandoff=6)
        if c == 5:
            ya.update(ticks="outside", ticklen=9, tickwidth=1, tickcolor="black", side="right",
                      showticklabels=(r % 2 == 0), ticklabelstandoff=6)
        layout["xaxis" + sx] = xa
        layout["yaxis" + sx] = ya

        series = PANEL_DATA[(design, method)]
        for g in GROUPS:
            if g not in series:
                continue
            pts = series[g]
            st = STYLE[g]
            fig.add_trace(go.Scatter(
                x=[p[0] for p in pts], y=[p[1] for p in pts], mode="markers",
                xaxis="x" + sx, yaxis="y" + sx, name=g, hoverinfo="skip",
                marker=dict(symbol=st["symbol"], size=st["size"], color=st["color"],
                            line=dict(color=st["color"], width=st["lw"]))))

        # reference lines through the axis scale
        shapes.append(dict(type="line", xref=("x" + sx + " domain"), x0=0, x1=1,
                           yref="y" + sx, y0=Y_GRID_LEVEL, y1=Y_GRID_LEVEL,
                           line=dict(color=GRID_COLOR, width=1), layer="below"))
        shapes.append(dict(type="line", xref=("x" + sx + " domain"), x0=0, x1=1,
                           yref="y" + sx, y0=TARGET_LEVEL, y1=TARGET_LEVEL,
                           line=dict(color="red", width=1.3), layer="above"))
        # strips
        shapes.append(dict(type="rect", xref="paper", yref="paper",
                           x0=px_x(x0), x1=px_x(x1), y0=px_y(top + STRIP_H), y1=px_y(top),
                           fillcolor=STRIP_OUTER, line=dict(color="black", width=1), layer="above"))
        shapes.append(dict(type="rect", xref="paper", yref="paper",
                           x0=px_x(x0), x1=px_x(x1), y0=px_y(pt), y1=px_y(top + STRIP_H),
                           fillcolor=STRIP_INNER, line=dict(color="black", width=1), layer="above"))
        shapes.append(dict(type="rect", xref="paper", yref="paper",
                           x0=px_x(x0), x1=px_x(x1), y0=px_y(pb), y1=px_y(pt),
                           line=dict(color="black", width=1), layer="above"))
        annotations.append(dict(text=design, xref="paper", yref="paper",
                                x=px_x((x0 + x1) / 2), y=px_y(top + STRIP_H / 2),
                                showarrow=False, xanchor="center", yanchor="middle",
                                font=dict(family=FONT, size=20, color="black", weight="bold")))
        annotations.append(dict(text=method, xref="paper", yref="paper",
                                x=px_x((x0 + x1) / 2), y=px_y(top + 1.5 * STRIP_H),
                                showarrow=False, xanchor="center", yanchor="middle",
                                font=dict(family=FONT, size=20, color="black", weight="bold")))

# ---------------- key (legend) ----------------
layout["xaxis25"] = dict(domain=[0, 1], range=[0, W], visible=False, anchor="y25", fixedrange=True,
                         automargin=False)
layout["yaxis25"] = dict(domain=[px_y(LEGEND_Y + 12), px_y(LEGEND_Y - 12)], range=[0, 1],
                         visible=False, anchor="x25", fixedrange=True, automargin=False)
for k, g in enumerate(GROUPS):
    st = STYLE[g]
    fig.add_trace(go.Scatter(x=[LEGEND_KEY_X[k]], y=[0.5], mode="markers", xaxis="x25", yaxis="y25",
                             hoverinfo="skip", cliponaxis=False,
                             marker=dict(symbol=st["symbol"], size=st["size"], color=st["color"],
                                         line=dict(color=st["color"], width=st["lw"]))))
    annotations.append(dict(text=g, xref="x25", yref="y25", x=LEGEND_TEXT_X[k], y=0.5,
                            showarrow=False, xanchor="center", yanchor="middle",
                            font=dict(family=FONT, size=20, color="black", weight="bold")))

# ---------------- axis titles ----------------
annotations.append(dict(text="mean confidence interval lengths", xref="paper", yref="paper",
                        x=px_x((PLOT_L + PLOT_R) / 2), y=px_y(690), showarrow=False,
                        xanchor="center", yanchor="middle", font=dict(family=FONT, size=20, color="black")))
annotations.append(dict(text="confidence interval coverage rates", xref="paper", yref="paper",
                        x=px_x(19), y=px_y((PLOT_T + PLOT_B) / 2), showarrow=False, textangle=-90,
                        xanchor="center", yanchor="middle", font=dict(family=FONT, size=21, color="black")))

layout["shapes"] = shapes
layout["annotations"] = annotations
fig.update_layout(**layout)
fig.write_html("out.html")
